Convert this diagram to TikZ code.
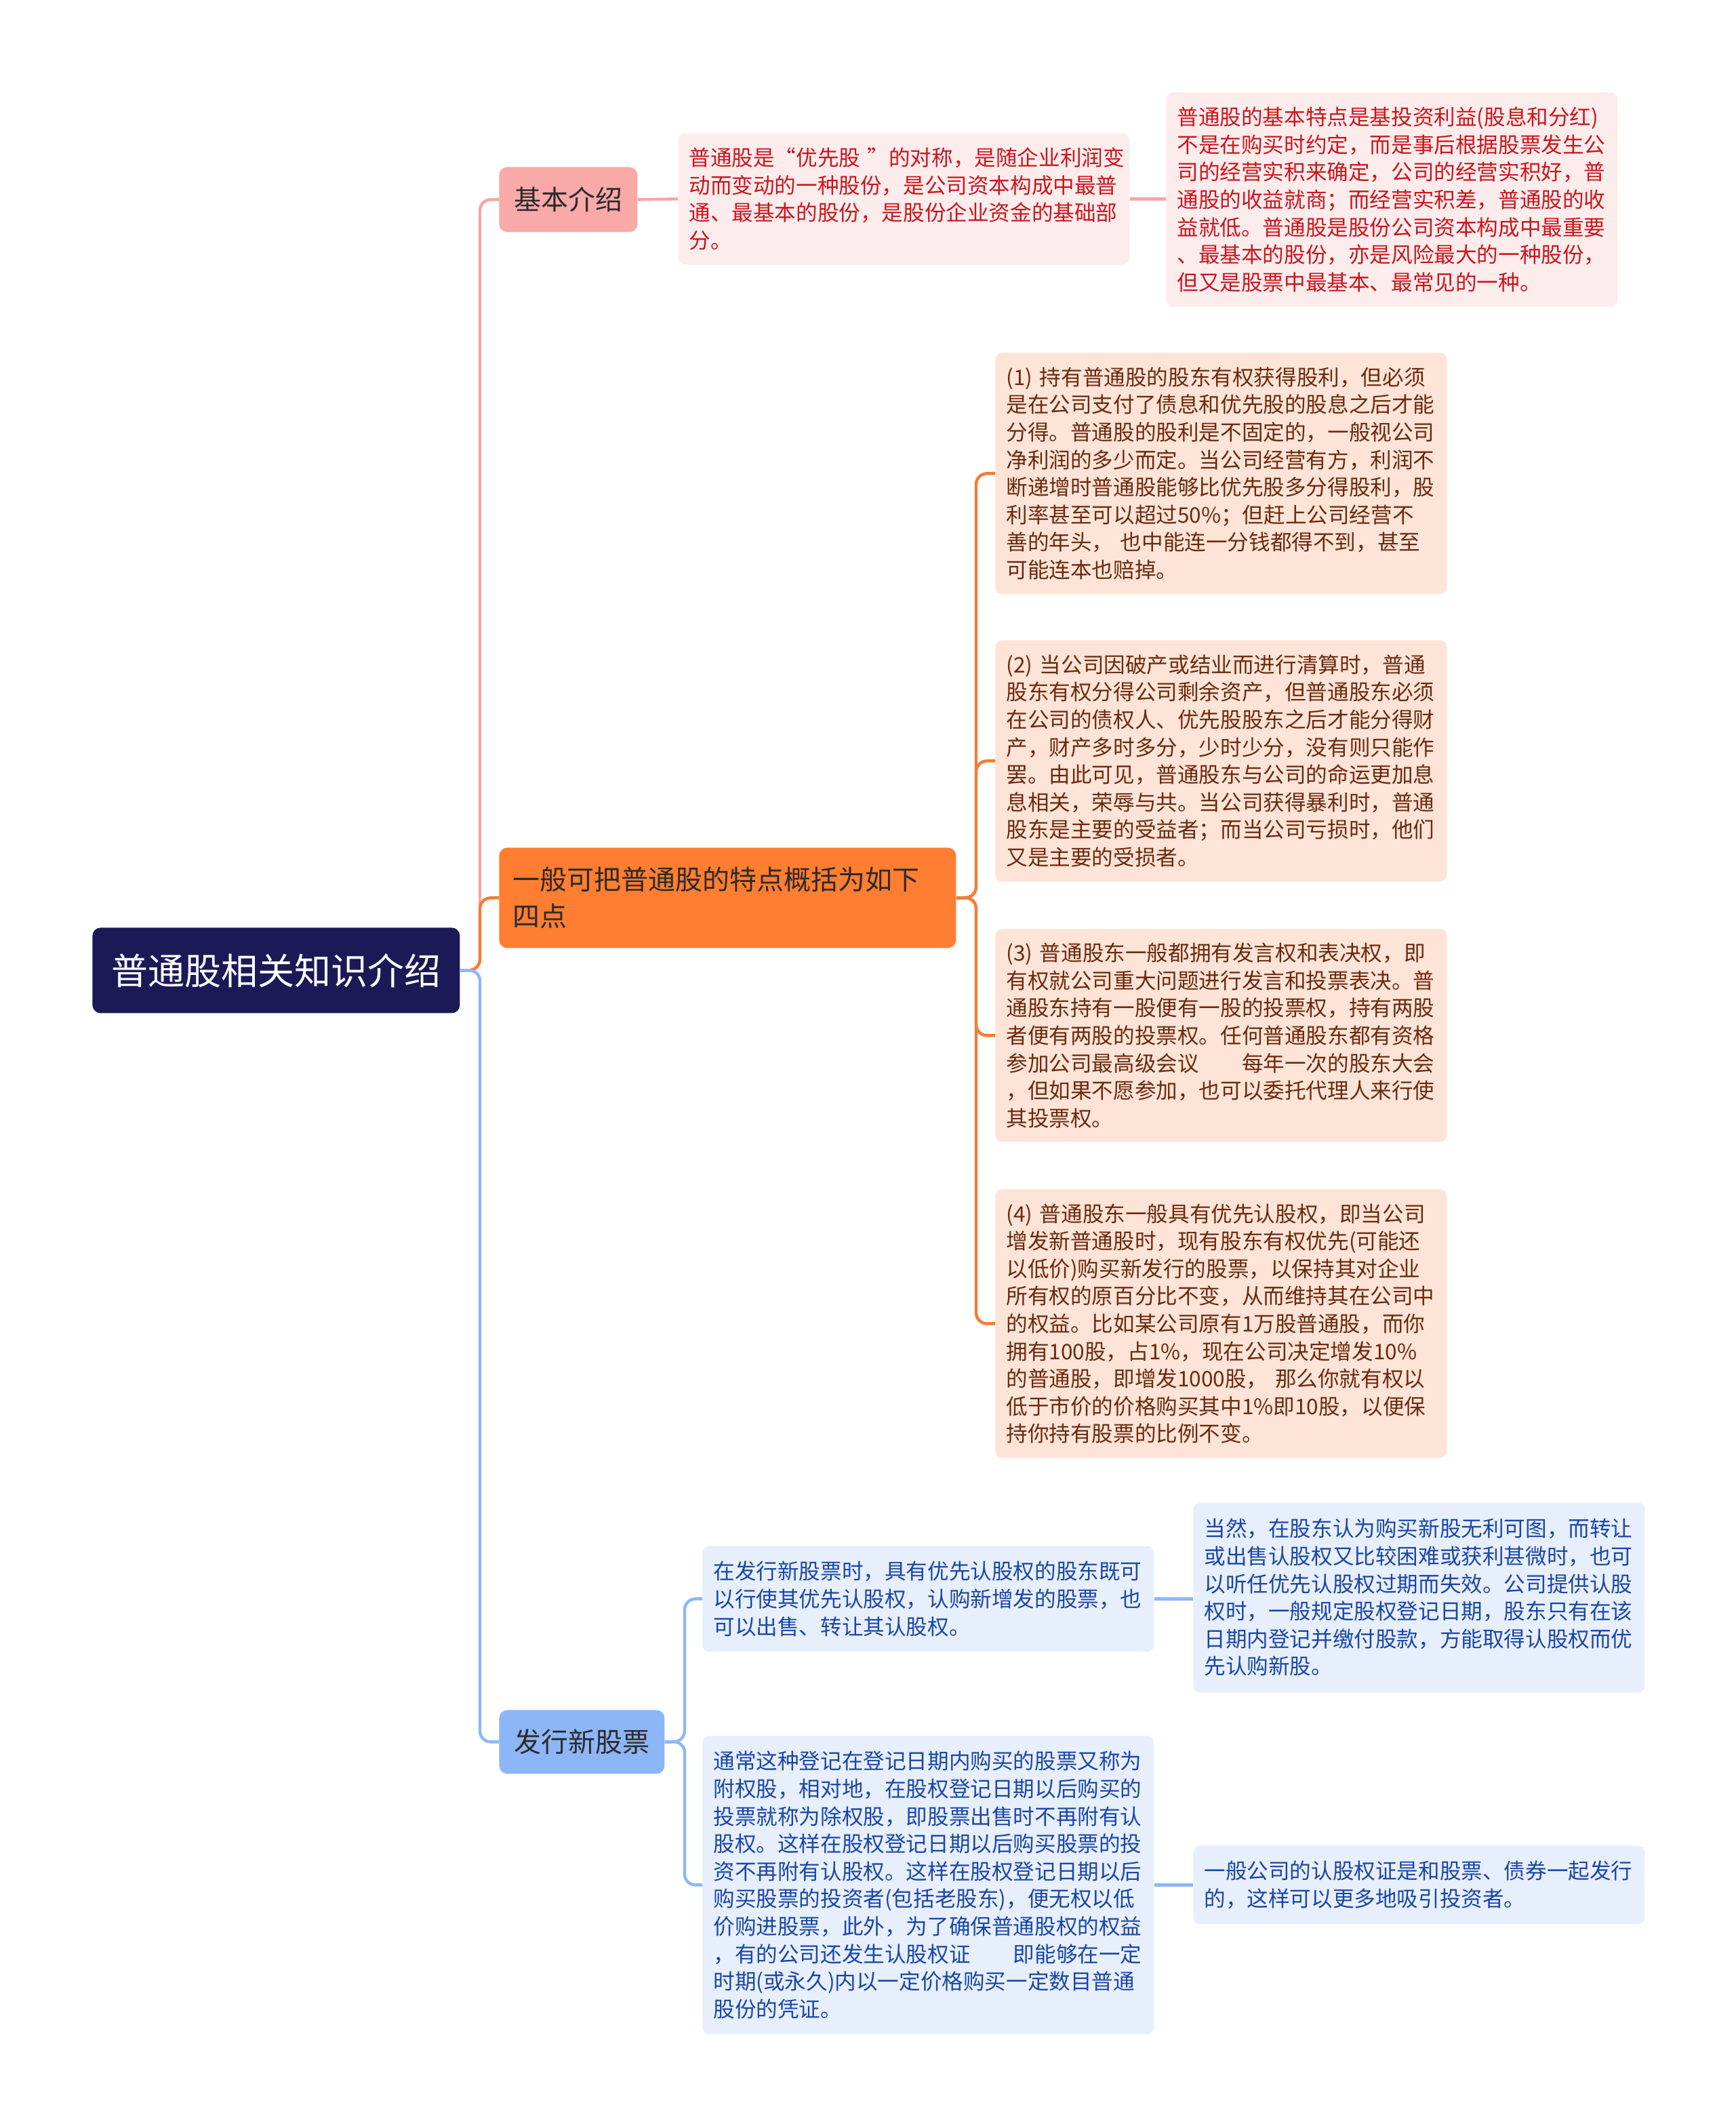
\documentclass[tikz,border=0pt]{standalone}
\usepackage{fontspec}
\newfontfamily\cjk{Noto Sans CJK SC}
\definecolor{rootc}{HTML}{1B1A57}
\definecolor{pinkbr}{HTML}{F8A9A8}
\definecolor{pinkln}{HTML}{F5A6A6}
\definecolor{pinklf}{HTML}{FDECEC}
\definecolor{pinktx}{HTML}{C8161E}
\definecolor{orgbr}{HTML}{FF7E31}
\definecolor{orgln}{HTML}{F27D35}
\definecolor{orglf}{HTML}{FDE4D7}
\definecolor{orgtx}{HTML}{6B2A0E}
\definecolor{bluebr}{HTML}{8CB6F8}
\definecolor{blueln}{HTML}{8CB6F8}
\definecolor{bluelf}{HTML}{E7EFFC}
\definecolor{bluetx}{HTML}{1A46A6}
\definecolor{brtx}{HTML}{2E2A2A}
\begin{document}
\begin{tikzpicture}[x=1pt,y=-1pt,
  rootbox/.style={anchor=north west, fill=rootc, text=white, rounded corners=6pt,
    minimum width=271pt, minimum height=63pt, inner sep=0pt, align=center,
    font=\cjk\fontsize{27}{32}\selectfont},
  brbox/.style={anchor=north west, rounded corners=6pt, inner ysep=0pt, text=brtx,
    font=\cjk\fontsize{20}{27}\selectfont},
  leafbox/.style={anchor=north west, rounded corners=5pt, inner xsep=8pt, inner ysep=0pt,
    text width=317pt, align=left, font=\cjk\fontsize{15.8}{20.3}\selectfont},
  pinkleaf/.style={leafbox, fill=pinklf, text=pinktx},
  orgleaf/.style={leafbox, fill=orglf, text=orgtx},
  blueleaf/.style={leafbox, fill=bluelf, text=bluetx},
  conn/.style={line width=2.2pt, rounded corners=8pt},
]
\useasboundingbox (0,0) rectangle (1280,1566.5);

% main nodes
\node[rootbox] (root) at (68,684) {普通股相关知识介绍};
\node[brbox, fill=pinkbr, minimum width=102pt, minimum height=48pt, align=center] (b1) at (368,123) {基本介绍};
\node[brbox, fill=orgbr, inner xsep=10pt, text width=317pt, minimum height=74pt, align=left] (b2) at (368,625) {一般可把普通股的特点概括为如下\\四点};
\node[brbox, fill=bluebr, minimum width=122pt, minimum height=47pt, align=center] (b3) at (368,1261) {发行新股票};

% pink leaves
\node[pinkleaf, minimum height=97pt] (p1) at (500,98) {普通股是“优先股~”的对称，是随企业利润变\\动而变动的一种股份，是公司资本构成中最普\\通、最基本的股份，是股份企业资金的基础部\\分。};
\node[pinkleaf, minimum height=158pt] (p2) at (860,68) {普通股的基本特点是基投资利益(股息和分红)\\不是在购买时约定，而是事后根据股票发生公\\司的经营实积来确定，公司的经营实积好，普\\通股的收益就商；而经营实积差，普通股的收\\益就低。普通股是股份公司资本构成中最重要\\、最基本的股份，亦是风险最大的一种股份，\\但又是股票中最基本、最常见的一种。};

% orange leaves
\node[orgleaf, minimum height=178pt] (o1) at (734,260) {(1)~持有普通股的股东有权获得股利，但必须\\是在公司支付了债息和优先股的股息之后才能\\分得。普通股的股利是不固定的，一般视公司\\净利润的多少而定。当公司经营有方，利润不\\断递增时普通股能够比优先股多分得股利，股\\利率甚至可以超过50\%；但赶上公司经营不\\善的年头，~也中能连一分钱都得不到，甚至\\可能连本也赔掉。};
\node[orgleaf, minimum height=178pt] (o2) at (734,472) {(2)~当公司因破产或结业而进行清算时，普通\\股东有权分得公司剩余资产，但普通股东必须\\在公司的债权人、优先股股东之后才能分得财\\产，财产多时多分，少时少分，没有则只能作\\罢。由此可见，普通股东与公司的命运更加息\\息相关，荣辱与共。当公司获得暴利时，普通\\股东是主要的受益者；而当公司亏损时，他们\\又是主要的受损者。};
\node[orgleaf, minimum height=157pt] (o3) at (734,685) {(3)~普通股东一般都拥有发言权和表决权，即\\有权就公司重大问题进行发言和投票表决。普\\通股东持有一股便有一股的投票权，持有两股\\者便有两股的投票权。任何普通股东都有资格\\参加公司最高级会议\kern2em 每年一次的股东大会\\，但如果不愿参加，也可以委托代理人来行使\\其投票权。};
\node[orgleaf, minimum height=198pt] (o4) at (734,877) {(4)~普通股东一般具有优先认股权，即当公司\\增发新普通股时，现有股东有权优先(可能还\\以低价)购买新发行的股票，以保持其对企业\\所有权的原百分比不变，从而维持其在公司中\\的权益。比如某公司原有1万股普通股，而你\\拥有100股，占1\%，现在公司决定增发10\%\\的普通股，即增发1000股，~那么你就有权以\\低于市价的价格购买其中1\%即10股，以便保\\持你持有股票的比例不变。};

% blue leaves
\node[blueleaf, minimum height=78pt] (u1) at (518,1140) {在发行新股票时，具有优先认股权的股东既可\\以行使其优先认股权，认购新增发的股票，也\\可以出售、转让其认股权。};
\node[blueleaf, minimum height=140pt] (u1r) at (880,1108) {当然，在股东认为购买新股无利可图，而转让\\或出售认股权又比较困难或获利甚微时，也可\\以听任优先认股权过期而失效。公司提供认股\\权时，一般规定股权登记日期，股东只有在该\\日期内登记并缴付股款，方能取得认股权而优\\先认购新股。};
\node[blueleaf, minimum height=220pt] (u2) at (518,1280) {通常这种登记在登记日期内购买的股票又称为\\附权股，相对地，在股权登记日期以后购买的\\投票就称为除权股，即股票出售时不再附有认\\股权。这样在股权登记日期以后购买股票的投\\资不再附有认股权。这样在股权登记日期以后\\购买股票的投资者(包括老股东)，便无权以低\\价购进股票，此外，为了确保普通股权的权益\\，有的公司还发生认股权证\kern2em 即能够在一定\\时期(或永久)内以一定价格购买一定数目普通\\股份的凭证。};
\node[blueleaf, minimum height=58pt] (u2r) at (880,1361) {一般公司的认股权证是和股票、债券一起发行\\的，这样可以更多地吸引投资者。};

% connectors
\coordinate (rj) at (354,715.5);
\coordinate (oj) at (720,662);
\coordinate (uj) at (505,1284.5);
\draw[conn, pinkln] (root.east) -- (rj) |- (b1.west);
\draw[conn, orgln] (root.east) -- (rj) |- (b2.west);
\draw[conn, blueln] (root.east) -- (rj) |- (b3.west);

\draw[conn, pinkln] (b1.east) -- (p1.west);
\draw[conn, pinkln] (p1.east) -- (p1.east -| p2.west);

\draw[conn, orgln] (b2.east) -- (oj) |- (o1.west);
\draw[conn, orgln] (b2.east) -- (oj) |- (o2.west);
\draw[conn, orgln] (b2.east) -- (oj) |- (o3.west);
\draw[conn, orgln] (b2.east) -- (oj) |- (o4.west);

\draw[conn, blueln] (b3.east) -- (uj) |- (u1.west);
\draw[conn, blueln] (b3.east) -- (uj) |- (u2.west);
\draw[conn, blueln] (u1.east) -- (u1.east -| u1r.west);
\draw[conn, blueln] (u2.east) -- (u2.east -| u2r.west);
\end{tikzpicture}
\end{document}
